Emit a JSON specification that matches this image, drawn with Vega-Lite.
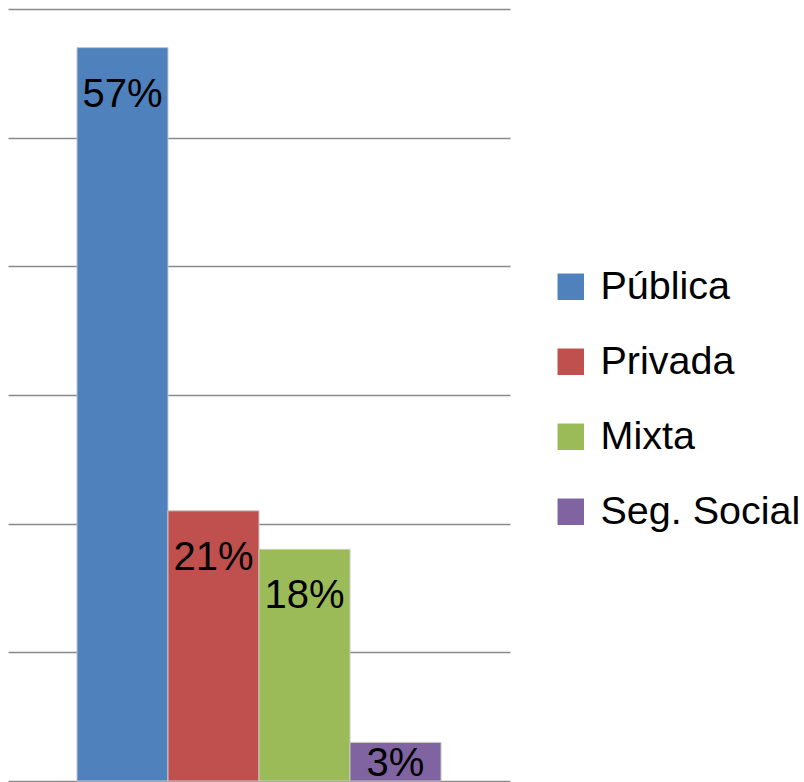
{
  "$schema": "https://vega.github.io/schema/vega-lite/v6.json",
  "width": 502,
  "height": 772,
  "autosize": {"type": "none"},
  "padding": {"left": 8, "top": 9, "right": 294, "bottom": 1},
  "background": "white",
  "config": {"view": {"stroke": null}},
  "data": {
    "values": [
      {"serie": "Pública", "valor": 57, "label": "57%"},
      {"serie": "Privada", "valor": 21, "label": "21%"},
      {"serie": "Mixta", "valor": 18, "label": "18%"},
      {"serie": "Seg. Social", "valor": 3, "label": "3%"}
    ]
  },
  "encoding": {
    "x": {
      "field": "serie",
      "type": "nominal",
      "sort": ["Pública", "Privada", "Mixta", "Seg. Social"],
      "scale": {"paddingInner": 0, "paddingOuter": 0.758},
      "axis": null
    },
    "y": {
      "field": "valor",
      "type": "quantitative",
      "scale": {"domain": [0, 60], "nice": false},
      "axis": {
        "values": [0, 10, 20, 30, 40, 50, 60],
        "grid": true,
        "gridColor": "#8a8a8a",
        "gridWidth": 1.5,
        "domain": false,
        "ticks": false,
        "labels": false,
        "title": null
      }
    }
  },
  "layer": [
    {
      "mark": {"type": "bar", "stroke": "#c8c8c8", "strokeWidth": 1},
      "encoding": {
        "color": {
          "field": "serie",
          "type": "nominal",
          "sort": ["Pública", "Privada", "Mixta", "Seg. Social"],
          "scale": {
            "domain": ["Pública", "Privada", "Mixta", "Seg. Social"],
            "range": ["#4F81BD", "#C0504D", "#9BBB59", "#8064A2"]
          },
          "legend": {
            "orient": "none",
            "legendX": 543,
            "legendY": 258,
            "title": null,
            "symbolType": "square",
            "symbolSize": 700,
            "symbolStrokeWidth": 0,
            "labelFontSize": 39.5,
            "labelFont": "Liberation Sans",
            "labelColor": "black",
            "labelOffset": 10,
            "rowPadding": 34,
            "labelLimit": 400
          }
        }
      }
    },
    {
      "transform": [{"filter": "datum.valor >= 10"}],
      "mark": {
        "type": "text",
        "baseline": "alphabetic",
        "align": "center",
        "dy": 59,
        "fontSize": 40,
        "font": "Liberation Sans",
        "color": "black"
      },
      "encoding": {"text": {"field": "label"}}
    },
    {
      "transform": [{"filter": "datum.valor < 10"}],
      "mark": {
        "type": "text",
        "baseline": "alphabetic",
        "align": "center",
        "dy": 34,
        "fontSize": 40,
        "font": "Liberation Sans",
        "color": "black"
      },
      "encoding": {"text": {"field": "label"}}
    }
  ]
}
